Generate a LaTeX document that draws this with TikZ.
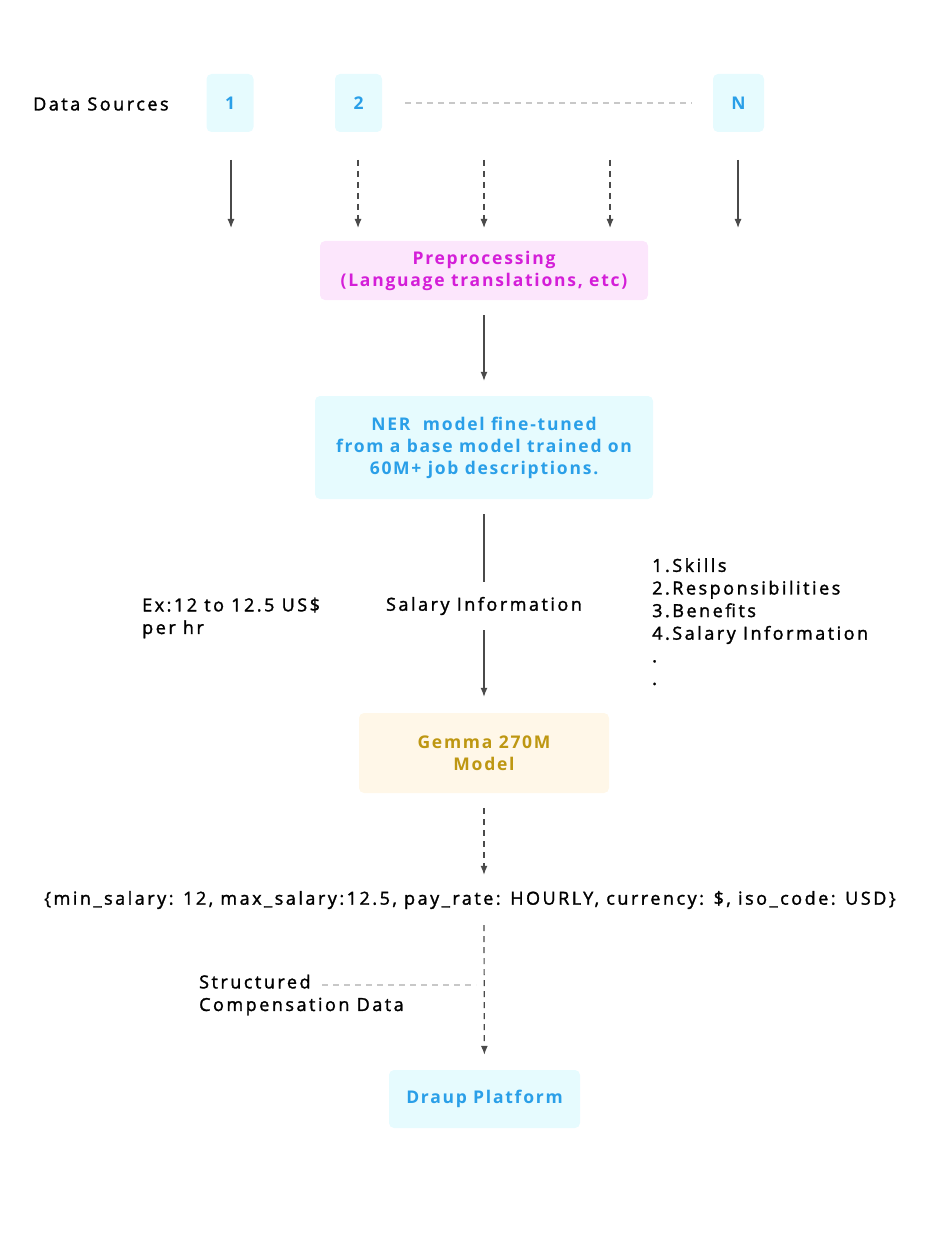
\documentclass[tikz,border=0pt]{standalone}
\usepackage{fontspec}
\setmainfont{Open Sans}
\newfontfamily\lblfont{Open Sans}[LetterSpace=14,FakeBold=1.6]
\newfontfamily\boxfont{Open Sans}[LetterSpace=10]
\usetikzlibrary{arrows.meta}
\definecolor{cyanfill}{HTML}{E6FBFE}
\definecolor{cyantext}{HTML}{2A9FE8}
\definecolor{pinkfill}{HTML}{FCE6FC}
\definecolor{pinktext}{HTML}{D41ED8}
\definecolor{goldfill}{HTML}{FFF7E8}
\definecolor{goldtext}{HTML}{BE9712}
\definecolor{arrowgray}{HTML}{4A4A4A}
\definecolor{guidegray}{HTML}{C8C8C8}
\tikzset{
  boxtext/.style={font=\boxfont\bfseries\fontsize{17.5}{22}\selectfont},
  srcbox/.style={boxtext, fill=cyanfill, text=cyantext, rounded corners=5pt,
    minimum width=47pt, minimum height=58pt},
  stepbox/.style={boxtext, rounded corners=5pt, align=center, inner sep=0pt},
  lbl/.style={font=\lblfont\fontsize{18}{22.6}\selectfont, text=black, inner sep=0pt},
  flow/.style={draw=arrowgray, line width=1.2pt, -{Latex[length=9pt,width=7pt]}},
  plain/.style={draw=arrowgray, line width=1.2pt},
  dashline/.style={dash pattern=on 6pt off 5pt},
  guide/.style={draw=guidegray, line width=1.2pt, dash pattern=on 6pt off 5pt},
}
\begin{document}
\begin{tikzpicture}[x=1pt,y=-1pt]
  \useasboundingbox (0,0) rectangle (933,1257);
  % data sources
  \node[lbl, anchor=west] (ds) at (33,104) {Data Sources};
  \node[srcbox] (s1) at (230,103) {1};
  \node[srcbox] (s2) at (358.5,103) {2};
  \node[srcbox, minimum width=51pt] (sN) at (738.5,103) {N};
  \coordinate (g1) at (405,103);
  \coordinate (g2) at (692,103);
  \draw[guide] (g1) -- (g2);
  \foreach \x/\st [count=\i] in {231/solid,358/dashline,484/dashline,610/dashline,738/solid} {
    \coordinate (t\i) at (\x,160);
    \coordinate (b\i) at (\x,228);
    \draw[flow,\st] (t\i) -- (b\i);
  }

  % pipeline
  \node[stepbox, fill=pinkfill, text=pinktext, minimum width=328pt, minimum height=59pt]
    (pre) at (484,270.5) {Preprocessing\\(Language translations, etc)};
  \node[stepbox, fill=cyanfill, text=cyantext, minimum width=338pt, minimum height=103pt]
    (ner) at (484,447.5) {NER\ \ model fine-tuned\\from a base model trained on\\60M+ job descriptions.};
  \node[lbl, minimum height=48pt] (sal) at (484,606) {Salary Information};
  \node[stepbox, fill=goldfill, text=goldtext, minimum width=250pt, minimum height=80pt]
    (gem) at (484,753) {Gemma 270M\\Model};
  \node[lbl, minimum height=50pt] (json) at (470,900)
    {\{min\_salary: 12, max\_salary:12.5, pay\_rate: HOURLY, currency: \$, iso\_code: USD\}};
  \node[stepbox, fill=cyanfill, text=cyantext, minimum width=191pt, minimum height=58pt]
    (draup) at (484.5,1099) {Draup Platform};

  \draw[flow, shorten <=15pt, shorten >=15pt] (pre) -- (ner);
  \draw[plain, shorten <=15pt] (ner) -- (sal);
  \draw[flow, shorten >=16pt] (sal) -- (gem);
  \draw[flow, dashline, shorten <=15pt] (gem) -- (gem |- json.north);
  \draw[flow, dashline, shorten >=15pt] (gem |- json.south) -- (draup);

  % side notes
  \node[lbl, anchor=west, align=left] (ex) at (142,618) {Ex:12 to 12.5 US\$\\per hr};
  \node[lbl, anchor=north west, align=left] (list) at (652,558)
    {1.Skills\\2.Responsibilities\\3.Benefits\\4.Salary Information\\.\\.};
  \node[lbl, anchor=west, align=left] (scd) at (199,995) {Structured\\Compensation Data};
  \coordinate (c1) at (322,985);
  \coordinate (c2) at (476,985);
  \draw[guide] (c1) -- (c2);
\end{tikzpicture}
\end{document}
